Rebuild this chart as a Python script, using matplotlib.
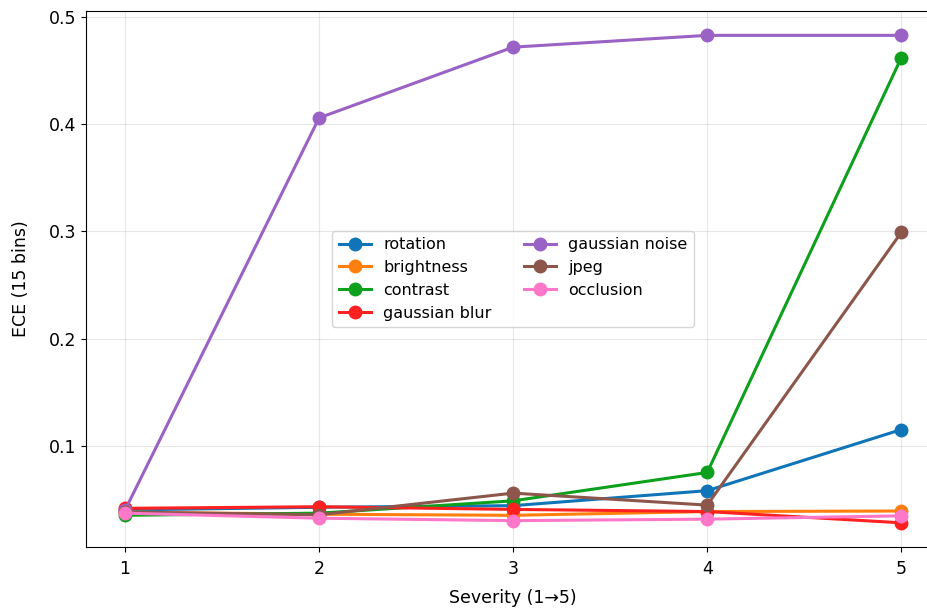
import numpy as np
import matplotlib
matplotlib.use("Agg")
import matplotlib.pyplot as plt

severity = [1, 2, 3, 4, 5]
rotation = [0.040, 0.0425, 0.044, 0.058, 0.115]
brightness = [0.038, 0.036, 0.035, 0.0385, 0.039]
contrast = [0.035, 0.037, 0.0485, 0.075, 0.462]
gaussian_blur = [0.0415, 0.043, 0.0405, 0.0385, 0.028]
gaussian_noise = [0.040, 0.406, 0.472, 0.483, 0.483]
jpeg = [0.038, 0.0355, 0.0557, 0.0445, 0.299]
occlusion = [0.037, 0.0323, 0.030, 0.0314, 0.0345]

series = [
    ("rotation", rotation, "#0f75b8"),
    ("brightness", brightness, "#ff7f0e"),
    ("contrast", contrast, "#0ca01c"),
    ("gaussian blur", gaussian_blur, "#ff2020"),
    ("gaussian noise", gaussian_noise, "#9a62c4"),
    ("jpeg", jpeg, "#8c564b"),
    ("occlusion", occlusion, "#ff77c8"),
]

plt.rcParams['font.size'] = 12.5
fig, ax = plt.subplots(figsize=(9.28, 6.1), dpi=100)
for name, vals, col in series:
    ax.plot(severity, vals, marker='o', color=col, label=name, lw=2.2, ms=9)

ax.set_xticks(severity)
ax.tick_params(axis='x', pad=6)
ax.set_xlabel("Severity (1→5)", labelpad=8)
ax.set_ylabel("ECE (15 bins)", labelpad=14)
ax.grid(True, alpha=0.3)
ax.legend(loc='center', ncol=2, fontsize=11.5)
# the reference is cropped on the right, the right spine falls outside
ax.spines['right'].set_visible(False)
fig.subplots_adjust(left=0.093, right=1.013, top=0.982, bottom=0.103)
fig.savefig("out.png")
